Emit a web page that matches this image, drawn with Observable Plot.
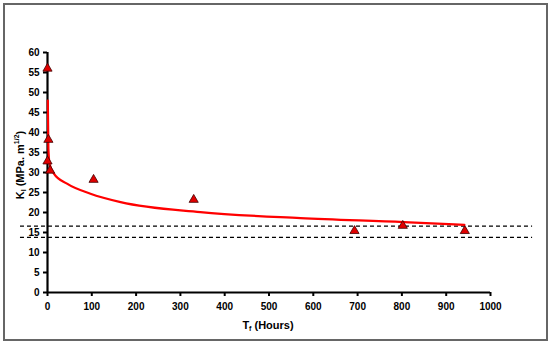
<!DOCTYPE html>
<html>
<head>
<meta charset="utf-8">
<script src="https://cdn.jsdelivr.net/npm/d3@7"></script>
<script src="https://cdn.jsdelivr.net/npm/@observablehq/plot@0.6"></script>
<style>
  html, body { margin: 0; padding: 0; background: #fff; }
  #wrap { position: relative; width: 550px; height: 343px; overflow: hidden; }
  #frame { position: absolute; left: 3px; top: 3px; width: 541px; height: 334px; border: 2px solid #666; }
  #chart { position: absolute; left: 0; top: 0; }
  svg text { font-family: "Liberation Sans", Arial, sans-serif; font-weight: bold; }
</style>
</head>
<body>
<div id="wrap"><div id="frame"></div><div id="chart"></div></div>
<script>
// Measured points (time to failure in hours, K_I in MPa·m^1/2)
const hours = [0, 2, 0, 6, 104, 330, 693, 802, 942];
const kI    = [56, 38.2, 32.8, 30.5, 28.2, 23.2, 15.4, 16.7, 15.4];

// Fitted trend curve
const fitHours = [0.7, 2, 5, 14, 44, 97, 165, 345, 571, 804, 941];
const fitK     = [48, 36, 32, 29.8, 27.2, 24.7, 22.6, 20.1, 18.6, 17.6, 16.9];

// Horizontal dashed reference levels
const refLevels = [16.6, 13.8];
const refSpan = [-61, 1095];

const xTicks = [0, 100, 200, 300, 400, 500, 600, 700, 800, 900, 1000];
const yTicks = [0, 5, 10, 15, 20, 25, 30, 35, 40, 45, 50, 55, 60];

const pts = hours.map((h, i) => ({h, k: kI[i]}));
const fit = fitHours.map((h, i) => ({h, k: fitK[i]}));

const plot = Plot.plot({
  width: 550,
  height: 343,
  marginLeft: 47,
  marginRight: 60,
  marginTop: 52,
  marginBottom: 51,
  style: {fontFamily: "'Liberation Sans', Arial, sans-serif", fontSize: "10px", fontWeight: "bold", background: "transparent", color: "#000"},
  x: {domain: [0, 1000]},
  y: {domain: [0, 60]},
  marks: [
    Plot.ruleY(refLevels, {x1: refSpan[0], x2: refSpan[1], stroke: "#000", strokeWidth: 1.2, strokeDasharray: "4,3"}),
    Plot.axisX({ticks: xTicks, tickSize: 4, tickPadding: 6, strokeWidth: 2, label: null, tickFormat: d => String(d)}),
    Plot.axisY({ticks: yTicks, tickSize: 4, tickPadding: 4, strokeWidth: 2, label: null, tickFormat: d => String(d)}),
    Plot.ruleY([0], {x1: 0, x2: 1000, stroke: "#000", strokeWidth: 2.2}),
    Plot.ruleX([0], {y1: 0, y2: 60, stroke: "#000", strokeWidth: 2.2}),
    Plot.line(fit, {x: "h", y: "k", stroke: "#ff0000", strokeWidth: 2.2, curve: "monotone-x"}),
    Plot.dot(pts, {x: "h", y: "k", symbol: "triangle", r: 3.4, fill: "#e00000", stroke: "#400000", strokeWidth: 0.8})
  ]
});
document.getElementById("chart").appendChild(plot);

const svg = d3.select(plot);
// Y axis title
const yt = svg.append("text")
  .attr("transform", "translate(21,165) rotate(-90)")
  .attr("text-anchor", "middle")
  .attr("dominant-baseline", "middle")
  .style("font-size", "11px");
yt.append("tspan").text("K");
yt.append("tspan").attr("dy", "3").style("font-size", "7px").text("I");
yt.append("tspan").attr("dy", "-3").text(" (MPa. m");
yt.append("tspan").attr("dy", "-4").style("font-size", "7px").text("1/2");
yt.append("tspan").attr("dy", "4").text(")");

// X axis title
const xt = svg.append("text")
  .attr("x", 268)
  .attr("y", 326)
  .attr("text-anchor", "middle")
  .attr("dominant-baseline", "middle")
  .style("font-size", "11px");
xt.append("tspan").text("T");
xt.append("tspan").attr("dy", "3").style("font-size", "7px").text("f");
xt.append("tspan").attr("dy", "-3").text(" (Hours)");
</script>
</body>
</html>
